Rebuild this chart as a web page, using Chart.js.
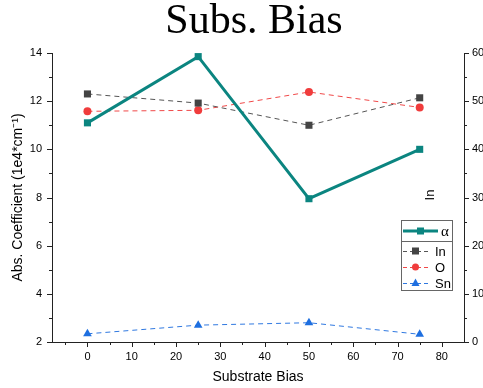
<!DOCTYPE html>
<html>
<head>
<meta charset="utf-8">
<script src="https://cdn.jsdelivr.net/npm/chart.js@4.4.1/dist/chart.umd.min.js"></script>
<style>
  html, body { margin: 0; padding: 0; background: #fff; }
  #wrap { width: 483px; height: 388px; position: relative; }
</style>
</head>
<body>
<div id="wrap"><canvas id="c" width="483" height="388"></canvas></div>
<script>
// ---- data ----
const biasValues = [0, 25, 50, 75];
const alphaValues = [11.1, 13.85, 7.95, 10.0];
const inValues = [51.5, 49.6, 45.0, 50.7];
const oValues = [47.9, 48.1, 51.9, 48.7];
const snValues = [1.7, 3.5, 4.0, 1.6];

const xMajorTicks = [0, 10, 20, 30, 40, 50, 60, 70, 80];
const xMinorTicks = [-5, 5, 15, 25, 35, 45, 55, 65, 75];
const leftMajorTicks = [2, 4, 6, 8, 10, 12, 14];
const leftMinorTicks = [3, 5, 7, 9, 11, 13];
const rightMajorTicks = [0, 10, 20, 30, 40, 50, 60];
const rightMinorTicks = [5, 15, 25, 35, 45, 55];

const titleText = 'Subs. Bias';
const xTitle = 'Substrate Bias';
const yTitle = 'Abs. Coefficient (1e4*cm\u207B\u00B9)';
const y2Title = 'In';

const pts = (ys) => biasValues.map((x, i) => ({ x: x, y: ys[i] }));

const AXIS = '#222';
const SANS = '"Liberation Sans", Arial, sans-serif';
const SERIF = '"Liberation Serif", "Times New Roman", serif';

const decorPlugin = {
  id: 'decor',
  afterDraw(chart) {
    const ctx = chart.ctx;
    const xs = chart.scales.x, yl = chart.scales.y, yr = chart.scales.y2;
    const ca = chart.chartArea;
    ctx.save();
    ctx.strokeStyle = AXIS;
    ctx.lineWidth = 1;
    const tick = (x1, y1, x2, y2) => { ctx.beginPath(); ctx.moveTo(x1, y1); ctx.lineTo(x2, y2); ctx.stroke(); };
    xMajorTicks.forEach(v => { const p = Math.round(xs.getPixelForValue(v)) + 0.5; tick(p, ca.bottom, p, ca.bottom + 5); });
    xMinorTicks.forEach(v => { const p = Math.round(xs.getPixelForValue(v)) + 0.5; tick(p, ca.bottom, p, ca.bottom + 3); });
    leftMajorTicks.forEach(v => { const p = Math.round(yl.getPixelForValue(v)) + 0.5; tick(ca.left, p, ca.left - 5, p); });
    leftMinorTicks.forEach(v => { const p = Math.round(yl.getPixelForValue(v)) + 0.5; tick(ca.left, p, ca.left - 3, p); });
    rightMajorTicks.forEach(v => { const p = Math.round(yr.getPixelForValue(v)) + 0.5; tick(ca.right, p, ca.right + 5, p); });
    rightMinorTicks.forEach(v => { const p = Math.round(yr.getPixelForValue(v)) + 0.5; tick(ca.right, p, ca.right + 3, p); });

    // main title
    ctx.fillStyle = '#000';
    ctx.font = '42px ' + SERIF;
    ctx.textAlign = 'center';
    ctx.textBaseline = 'alphabetic';
    ctx.fillText(titleText, 254, 33);

    // right axis title (drawn inside plot as in reference)
    ctx.save();
    ctx.translate(434, 195);
    ctx.rotate(-Math.PI / 2);
    ctx.font = '13px ' + SANS;
    ctx.textAlign = 'center';
    ctx.textBaseline = 'alphabetic';
    ctx.fillText(y2Title, 0, 0);
    ctx.restore();

    // legend
    const ds = chart.data.datasets;
    ctx.strokeStyle = '#666';
    ctx.lineWidth = 1;
    ctx.strokeRect(401.5, 220.5, 51, 70);
    tick(401.5, 241.5, 452.5, 241.5);
    const drawMarker = (d, x, y) => {
      ctx.save();
      ctx.fillStyle = d.pointBackgroundColor;
      const r = d.pointRadius;
      if (d.pointStyle === 'rect') {
        ctx.fillRect(x - r, y - r, 2 * r, 2 * r);
      } else if (d.pointStyle === 'circle') {
        ctx.beginPath(); ctx.arc(x, y, r, 0, Math.PI * 2); ctx.fill();
      } else if (d.pointStyle === 'triangle') {
        ctx.beginPath(); ctx.moveTo(x, y - r * 1.1); ctx.lineTo(x + r, y + r * 0.75); ctx.lineTo(x - r, y + r * 0.75); ctx.closePath(); ctx.fill();
      }
      ctx.restore();
    };
    // alpha
    const a = ds[0];
    ctx.save();
    ctx.strokeStyle = a.borderColor; ctx.lineWidth = a.borderWidth;
    tick(403, 231, 438, 231);
    ctx.restore();
    drawMarker({ pointBackgroundColor: a.pointBackgroundColor, pointRadius: 3.5, pointStyle: 'rect' }, 420.5, 231);
    ctx.fillStyle = '#000';
    ctx.font = '15px ' + SERIF;
    ctx.textAlign = 'left';
    ctx.textBaseline = 'middle';
    ctx.fillText(a.label, 441, 232);
    const rows = [251, 267, 283];
    for (let i = 1; i <= 3; i++) {
      const d = ds[i];
      const y = rows[i - 1];
      ctx.save();
      ctx.strokeStyle = d.borderColor; ctx.lineWidth = 1; ctx.setLineDash([4, 3]);
      tick(403, y + 0.5, 428, y + 0.5);
      ctx.restore();
      drawMarker({ pointBackgroundColor: d.pointBackgroundColor, pointRadius: d.pointStyle === 'triangle' ? 4 : 3.5, pointStyle: d.pointStyle }, 415.5, y);
      ctx.fillStyle = '#000';
      ctx.font = '13px ' + SANS;
      ctx.textAlign = 'left';
      ctx.textBaseline = 'middle';
      ctx.fillText(d.label, 435, y + 1);
    }
    ctx.restore();
  }
};

const chart = new Chart(document.getElementById('c'), {
  type: 'scatter',
  data: {
    datasets: [
      { label: '\u03B1', data: pts(alphaValues), yAxisID: 'y', showLine: true,
        borderColor: '#0B8580', backgroundColor: '#0B8580', borderWidth: 3,
        pointStyle: 'rect', pointRadius: 5, pointBackgroundColor: '#0B8580', pointBorderWidth: 0 },
      { label: 'In', data: pts(inValues), yAxisID: 'y2', showLine: true,
        borderColor: '#555555', backgroundColor: '#444444', borderWidth: 1, borderDash: [5, 4],
        pointStyle: 'rect', pointRadius: 5, pointBackgroundColor: '#444444', pointBorderWidth: 0 },
      { label: 'O', data: pts(oValues), yAxisID: 'y2', showLine: true,
        borderColor: '#F04848', backgroundColor: '#F03C3C', borderWidth: 1, borderDash: [5, 4],
        pointStyle: 'circle', pointRadius: 4, pointBackgroundColor: '#F03C3C', pointBorderWidth: 0 },
      { label: 'Sn', data: pts(snValues), yAxisID: 'y2', showLine: true,
        borderColor: '#2F78E0', backgroundColor: '#1E6FE0', borderWidth: 1, borderDash: [5, 4],
        pointStyle: 'triangle', pointRadius: 5, pointBackgroundColor: '#1E6FE0', pointBorderWidth: 0 }
    ]
  },
  options: {
    responsive: false,
    animation: false,
    devicePixelRatio: 1,
    layout: { padding: { top: 53, left: 0, right: 0, bottom: 0 } },
    plugins: { legend: { display: false }, title: { display: false }, tooltip: { enabled: false } },
    scales: {
      x: {
        type: 'linear', position: 'bottom', min: -8, max: 85,
        afterBuildTicks: (s) => { s.ticks = xMajorTicks.map(v => ({ value: v })); },
        afterFit: (s) => { s.height = 46; },
        grid: { display: false, drawTicks: false },
        border: { display: true, color: AXIS, width: 1 },
        ticks: { color: '#000', font: { family: SANS, size: 11 }, padding: 8, maxRotation: 0, autoSkip: false },
        title: { display: true, text: xTitle, color: '#000', font: { family: SANS, size: 14 }, padding: { top: 0, bottom: 2 } }
      },
      y: {
        type: 'linear', position: 'left', min: 2, max: 14,
        afterBuildTicks: (s) => { s.ticks = leftMajorTicks.map(v => ({ value: v })); },
        afterFit: (s) => { s.width = 52; },
        grid: { display: false, drawTicks: false },
        border: { display: true, color: AXIS, width: 1 },
        ticks: { color: '#000', font: { family: SANS, size: 11 }, padding: 10, autoSkip: false },
        title: { display: true, text: yTitle, color: '#000', font: { family: SANS, size: 14 }, padding: { top: 10, bottom: 0 } }
      },
      y2: {
        type: 'linear', position: 'right', min: 0, max: 60,
        afterBuildTicks: (s) => { s.ticks = rightMajorTicks.map(v => ({ value: v })); },
        afterFit: (s) => { s.width = 19; },
        grid: { display: false, drawTicks: false },
        border: { display: true, color: AXIS, width: 1 },
        ticks: { color: '#000', font: { family: SANS, size: 11 }, padding: 8, autoSkip: false }
      }
    }
  },
  plugins: [decorPlugin]
});
</script>
</body>
</html>
